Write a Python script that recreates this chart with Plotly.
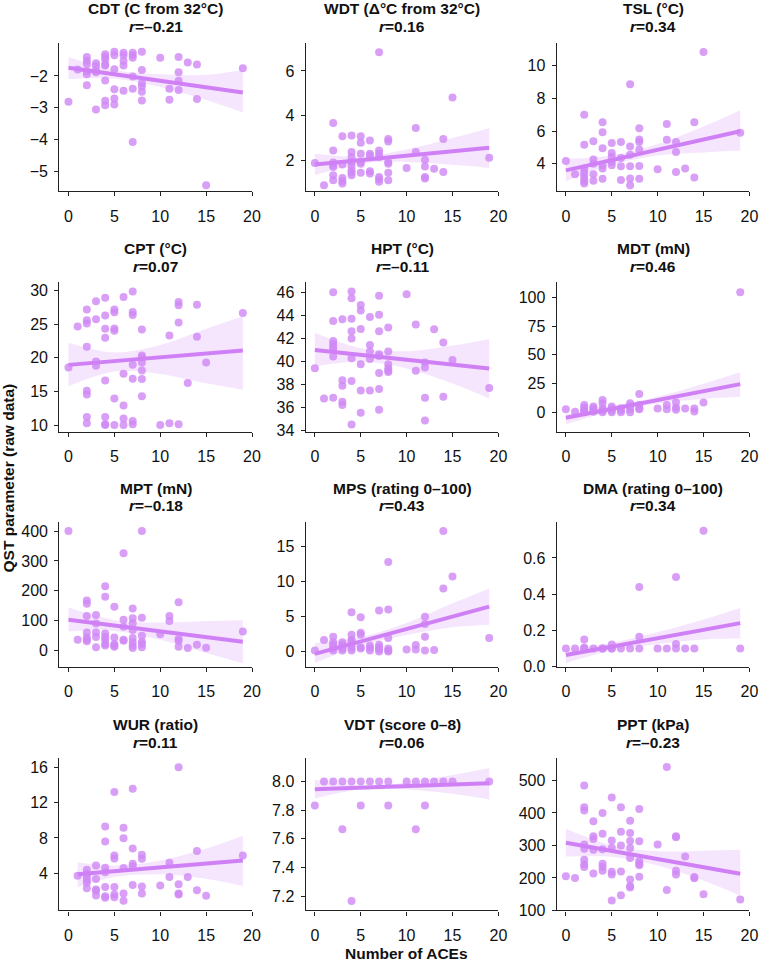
import plotly.graph_objects as go

# ---------------- data ----------------
TITLES = ["CDT (C from 32°C)", "WDT (Δ°C from 32°C)", "TSL (°C)",
          "CPT (°C)", "HPT (°C)", "MDT (mN)",
          "MPT (mN)", "MPS (rating 0–100)", "DMA (rating 0–100)",
          "WUR (ratio)", "VDT (score 0–8)", "PPT (kPa)"]
R_TEXT = ["–0.21", "0.16", "0.34", "0.07", "–0.11", "0.46",
          "–0.18", "0.43", "0.34", "0.11", "0.06", "–0.23"]

CDT_X = [0, 1, 2, 2, 2, 2, 2, 2, 3, 3, 3, 3, 3, 4, 4, 4, 4, 4, 4, 4, 4, 5, 5, 5, 5, 5, 5,
         6, 6, 6, 6, 6, 7, 7, 7, 7, 7, 7, 8, 8, 8, 8, 8, 8, 10, 11, 11, 12, 12, 12, 12, 13, 14, 14, 15, 19]
CDT_Y = [-2.81, -1.80, -1.40, -1.52, -1.62, -1.85, -1.95, -2.29, -1.60, -1.69, -1.84, -1.88, -3.06,
         -1.32, -1.40, -1.48, -1.64, -1.67, -2.14, -2.78, -2.92, -1.24, -1.35, -1.79, -2.42, -2.71, -2.90,
         -1.27, -1.35, -1.53, -1.67, -2.47, -1.27, -1.35, -1.43, -2.02, -2.40, -4.08,
         -1.24, -1.81, -2.23, -2.33, -2.50, -2.77, -1.43, -2.40, -2.75, -1.40, -1.88, -2.15, -2.44,
         -1.58, -1.64, -2.73, -5.44, -1.76]

WDT_X = [0, 1, 2, 2, 2, 2, 2, 2, 2, 3, 3, 3, 3, 3, 4, 4, 4, 4, 4, 4, 4, 4, 5, 5, 5, 5, 5, 5,
         6, 6, 6, 6, 6, 7, 7, 7, 7, 7, 7, 7, 8, 8, 8, 8, 8, 8, 10, 11, 11, 12, 12, 12, 12, 13, 14, 14, 15, 19]
WDT_Y = [1.88, 0.89, 3.67, 2.44, 1.90, 1.78, 1.70, 1.33, 1.11, 3.08, 1.82, 1.21, 1.08, 0.96,
         3.11, 2.37, 2.15, 1.93, 1.75, 1.56, 1.45, 1.33, 3.08, 2.79, 2.30, 1.93, 1.85, 1.45,
         2.89, 2.30, 2.22, 1.51, 1.41, 6.84, 2.44, 2.30, 2.15, 1.26, 1.16, 1.04,
         2.96, 2.84, 1.93, 1.85, 1.45, 1.11, 1.66, 3.45, 2.37, 2.03, 1.73, 1.26, 1.19, 1.63, 2.96, 1.48, 4.81, 2.12]

TSL_X = [0, 1, 2, 2, 2, 2, 2, 2, 2, 2, 3, 3, 3, 3, 3, 4, 4, 4, 4, 4, 4, 5, 5, 5, 5, 5,
         6, 6, 6, 6, 7, 7, 7, 7, 7, 7, 8, 8, 8, 8, 8, 8, 10, 11, 11, 12, 12, 12, 13, 14, 14, 15, 19]
TSL_Y = [4.16, 3.35, 7.0, 5.16, 3.70, 3.49, 3.29, 3.09, 2.92, 2.78, 5.38, 4.26, 4.0, 3.35, 2.95,
         6.54, 5.93, 4.95, 3.90, 3.70, 3.07, 5.26, 4.65, 4.41, 4.10, 3.90, 5.32, 4.34, 3.84, 2.99,
         8.87, 5.05, 4.55, 3.84, 3.09, 2.68, 6.17, 5.48, 5.32, 4.87, 3.86, 3.07, 3.66, 6.43, 5.46,
         5.32, 4.71, 3.49, 3.70, 6.54, 3.15, 10.84, 5.89]

CPT_X = [0, 1, 2, 2, 2, 2, 2, 2, 2, 2, 3, 3, 3, 3, 4, 4, 4, 4, 4, 4, 4, 4, 5, 5, 5, 5, 5, 5,
         6, 6, 6, 6, 6, 7, 7, 7, 7, 7, 7, 7, 8, 8, 8, 8, 8, 8, 8, 10, 11, 11, 12, 12, 12, 12, 13, 14, 14, 15, 19]
CPT_Y = [18.55, 24.64, 27.15, 25.58, 25.09, 21.65, 15.11, 14.52, 11.18, 10.25, 28.38, 25.72, 19.43, 18.80,
         28.92, 26.27, 24.30, 22.97, 16.63, 11.18, 10.1, 10.0, 27.15, 26.76, 24.35, 24.0, 13.93, 10.0,
         29.02, 17.62, 12.90, 10.98, 10.0, 29.85, 26.8, 26.36, 18.94, 16.88, 10.59, 10.1,
         24.2, 20.32, 20.02, 19.29, 18.11, 16.83, 14.28, 10.0, 23.32, 10.25, 28.28, 27.79, 25.23, 10.1,
         16.24, 27.89, 23.12, 19.29, 26.66]

HPT_X = [0, 1, 2, 2, 2, 2, 2, 2, 2, 2, 3, 3, 3, 3, 3, 4, 4, 4, 4, 4, 4, 4, 4, 5, 5, 5, 5, 5, 5,
         6, 6, 6, 6, 6, 7, 7, 7, 7, 7, 7, 7, 7, 8, 8, 8, 8, 8, 8, 10, 11, 11, 12, 12, 12, 12, 13, 14, 14, 15, 19]
HPT_Y = [39.43, 36.8, 46.0, 43.51, 41.77, 41.51, 41.29, 41.06, 40.43, 36.86, 43.66, 38.37, 37.91, 36.51, 36.23,
         46.06, 45.49, 43.71, 42.63, 42.0, 40.29, 38.31, 34.54, 44.89, 44.43, 42.83, 39.77, 37.49, 35.57,
         43.86, 41.43, 40.86, 40.23, 37.49, 45.71, 44.06, 42.63, 40.63, 40.49, 39.0, 37.63, 35.83,
         42.94, 40.86, 39.77, 39.43, 39.2, 39.09, 45.83, 43.2, 39.2, 39.91, 39.49, 36.86, 34.89,
         42.8, 41.66, 36.94, 40.14, 37.71]

MDT_X = [0, 1, 2, 2, 2, 2, 2, 3, 3, 3, 3, 4, 4, 4, 4, 4, 5, 5, 5, 5, 6, 6, 6, 7, 7, 7, 7,
         8, 8, 8, 8, 10, 11, 11, 12, 12, 12, 13, 14, 14, 15, 19]
MDT_Y = [2.9, 0.6, 6.6, 4.3, 2.3, 0.9, 0.2, 5.1, 3.7, 2.3, 0.6, 10.9, 8.0, 3.7, 1.7, 0.3,
         5.1, 3.4, 1.7, 0.2, 3.7, 2.0, 0.3, 8.0, 5.7, 2.9, 0.3, 16.0, 6.6, 3.7, 2.9, 3.4,
         6.6, 2.9, 8.9, 4.3, 2.3, 3.4, 3.4, 0.9, 8.6, 104.3]

MPT_X = [0, 1, 2, 2, 2, 2, 2, 2, 2, 3, 3, 3, 3, 3, 4, 4, 4, 4, 4, 4, 4, 5, 5, 5, 5, 5,
         6, 6, 6, 6, 6, 7, 7, 7, 7, 7, 7, 7, 7, 8, 8, 8, 8, 8, 8, 10, 11, 11, 12, 12, 12, 12, 13, 14, 15, 19]
MPT_Y = [400, 36.5, 168, 157, 116, 61, 44, 36, 31, 119, 91, 61, 46, 11, 215, 180, 57, 46, 36, 22, 17,
         147, 44, 22, 17, 13, 326, 103, 80, 36, 33, 141, 108, 92, 69, 42, 28, 17, 9,
         400, 110, 50, 30, 22, 11, 55, 116, 99, 162, 39, 33, 13, 9, 20, 10, 64]

MPS_X = [0, 1, 2, 2, 2, 2, 2, 2, 3, 3, 3, 3, 3, 4, 4, 4, 4, 4, 4, 4, 5, 5, 5, 5, 5, 6, 6, 6,
         7, 7, 7, 7, 7, 8, 8, 8, 8, 8, 8, 10, 11, 11, 12, 12, 12, 12, 13, 14, 14, 15, 19]
MPS_Y = [0.19, 1.69, 2.16, 1.36, 1.03, 0.75, 0.47, 0.19, 1.36, 1.03, 0.75, 0.47, 0.19,
         5.64, 2.44, 1.74, 1.46, 1.03, 0.56, 0.19, 4.94, 2.73, 2.44, 0.66, 0.47, 0.89, 0.56, 0.19,
         5.88, 1.03, 0.66, 0.33, 0.05, 12.79, 6.02, 1.97, 0.47, 0.19, 0.05, 0.33, 0.99, 0.33,
         4.98, 3.95, 2.16, 0.19, 0.28, 17.21, 9.03, 10.72, 1.97]

DMA_X = [0, 1, 2, 2, 2, 3, 4, 4, 5, 5, 5, 6, 7, 8, 8, 8, 10, 11, 12, 12, 12, 13, 14, 15, 19]
DMA_Y = [0.10, 0.10, 0.149, 0.105, 0.10, 0.10, 0.10, 0.10, 0.122, 0.10, 0.10, 0.10, 0.10,
         0.44, 0.164, 0.10, 0.10, 0.10, 0.495, 0.124, 0.10, 0.10, 0.10, 0.751, 0.10]

WUR_X = [1, 2, 2, 2, 2, 2, 2, 3, 3, 3, 3, 3, 4, 4, 4, 4, 4, 4, 4, 5, 5, 5, 5, 5, 5,
         6, 6, 6, 6, 6, 7, 7, 7, 7, 7, 8, 8, 8, 8, 10, 11, 11, 12, 12, 12, 12, 13, 14, 14, 15, 19]
WUR_Y = [3.74, 4.41, 3.96, 3.59, 3.21, 2.95, 2.32, 4.90, 3.36, 2.17, 2.02, 1.50,
         9.31, 7.59, 4.64, 4.11, 2.47, 1.42, 1.23, 13.2, 6.02, 5.68, 2.47, 1.61, 1.31,
         9.16, 7.96, 4.6, 1.72, 0.90, 13.57, 6.80, 5.08, 4.79, 2.69, 6.09, 5.64, 2.50, 1.72,
         2.62, 5.20, 3.59, 16.0, 2.77, 1.72, 1.61, 3.59, 6.54, 2.09, 1.46, 6.02]

VDT_X = [0, 1, 2, 3, 4, 5, 6, 7, 8, 10, 11, 12, 13, 14, 15, 19, 3, 4, 5, 8, 11, 12]
VDT_Y = [7.833, 8, 8, 8, 8, 8, 8, 8, 8, 8, 8, 8, 8, 8, 8, 8, 7.667, 7.167, 7.833, 7.833, 7.667, 7.833]

PPT_X = [0, 1, 2, 2, 2, 2, 2, 2, 2, 2, 3, 3, 3, 3, 3, 4, 4, 4, 4, 4, 4, 5, 5, 5, 5, 5, 5,
         6, 6, 6, 6, 6, 7, 7, 7, 7, 7, 7, 7, 7, 8, 8, 8, 8, 8, 8, 10, 11, 11, 12, 12, 12, 12, 13, 14, 14, 15, 19]
PPT_Y = [205, 200, 484, 417, 407, 303, 290, 256, 242, 234, 374, 328, 320, 287, 214,
         400, 336, 288, 244, 234, 222, 447, 315, 293, 219, 211, 131, 417, 342, 300, 220, 147,
         376, 338, 314, 292, 261, 195, 175, 171, 412, 313, 251, 244, 239, 204, 303, 541, 163,
         328, 325, 222, 211, 266, 203, 199, 150, 134]

# regression line and 95% CI band, read at these x positions
FIT_X = [0, 5, 10, 15, 19]
WUR_FIT_X = [1, 5, 10, 15, 19]
CDT_FIT = [-1.74, -1.945, -2.15, -2.36, -2.52]
CDT_LO = [-2.10, -2.08, -2.35, -2.76, -3.15]
CDT_HI = [-1.40, -1.81, -1.95, -1.96, -1.81]
WDT_FIT = [1.82, 2.01, 2.21, 2.40, 2.56]
WDT_LO = [1.34, 1.85, 1.93, 1.80, 1.66]
WDT_HI = [2.30, 2.17, 2.49, 3.00, 3.44]
TSL_FIT = [3.59, 4.22, 4.85, 5.48, 5.99]
TSL_LO = [2.92, 3.94, 4.50, 4.68, 4.80]
TSL_HI = [4.30, 4.50, 5.20, 6.28, 7.28]
CPT_FIT = [18.94, 19.50, 20.06, 20.61, 21.06]
CPT_LO = [15.75, 17.96, 17.6, 16.2, 15.26]
CPT_HI = [22.24, 20.8, 21.9, 24.3, 26.17]
HPT_FIT = [41.0, 40.58, 40.16, 39.74, 39.4]
HPT_LO = [39.57, 40.0, 39.4, 38.1, 36.8]
HPT_HI = [42.49, 41.15, 40.9, 41.4, 41.94]
MDT_FIT = [-4.6, 3.08, 10.77, 18.45, 24.6]
MDT_LO = [-10.3, 1.0, 7.8, 12.0, 13.7]
MDT_HI = [-1.5, 5.2, 13.7, 25.0, 34.9]
MPT_FIT = [103, 83.8, 64.6, 45.4, 30]
MPT_LO = [64, 66, 36, -8, -42]
MPT_HI = [144, 102, 94, 99, 102]
MPS_FIT = [-0.28, 1.49, 3.26, 5.03, 6.44]
MPS_LO = [-1.6, 0.9, 2.4, 3.5, 3.86]
MPS_HI = [1.22, 2.1, 4.1, 6.9, 9.03]
DMA_FIT = [0.064, 0.110, 0.157, 0.203, 0.24]
DMA_LO = [0.018, 0.088, 0.125, 0.15, 0.155]
DMA_HI = [0.095, 0.132, 0.19, 0.26, 0.324]
WUR_FIT = [3.89, 4.24, 4.67, 5.11, 5.46]
WUR_LO = [2.43, 3.6, 3.9, 3.4, 2.58]
WUR_HI = [5.23, 4.9, 5.45, 6.8, 8.26]
VDT_FIT = [7.947, 7.958, 7.969, 7.979, 7.988]
VDT_LO = [7.882, 7.944, 7.945, 7.915, 7.875]
VDT_HI = [8.012, 7.972, 7.993, 8.045, 8.095]
PPT_FIT = [308, 283, 258, 233, 213]
PPT_LO = [266, 265, 238, 192, 145]
PPT_HI = [351, 300, 282, 284, 287]

Y_RANGES = [[-5.63, -0.95], [0.62, 7.27], [2.31, 11.42],
            [8.97, 31.2], [33.9, 46.86], [-16.9, 112.9],
            [-55, 431], [-2.16, 18.5], [-0.003, 0.8],
            [-0.2, 17.05], [7.10, 8.165], [100, 569]]
Y_TICKS = [[-5, -4, -3, -2], [2, 4, 6], [4, 6, 8, 10],
           [10, 15, 20, 25, 30], [34, 36, 38, 40, 42, 44, 46], [0, 25, 50, 75, 100],
           [0, 100, 200, 300, 400], [0, 5, 10, 15], [0.0, 0.2, 0.4, 0.6],
           [4, 8, 12, 16], [7.2, 7.4, 7.6, 7.8, 8.0], [100, 200, 300, 400, 500]]
Y_TICKTEXT = [None, None, None, None, None, None, None, None,
              ["0.0", "0.2", "0.4", "0.6"], None,
              ["7.2", "7.4", "7.6", "7.8", "8.0"], None]
X_TICKS = [0, 5, 10, 15, 20]

PANELS = [
    (CDT_X, CDT_Y, FIT_X, CDT_FIT, CDT_LO, CDT_HI),
    (WDT_X, WDT_Y, FIT_X, WDT_FIT, WDT_LO, WDT_HI),
    (TSL_X, TSL_Y, FIT_X, TSL_FIT, TSL_LO, TSL_HI),
    (CPT_X, CPT_Y, FIT_X, CPT_FIT, CPT_LO, CPT_HI),
    (HPT_X, HPT_Y, FIT_X, HPT_FIT, HPT_LO, HPT_HI),
    (MDT_X, MDT_Y, FIT_X, MDT_FIT, MDT_LO, MDT_HI),
    (MPT_X, MPT_Y, FIT_X, MPT_FIT, MPT_LO, MPT_HI),
    (MPS_X, MPS_Y, FIT_X, MPS_FIT, MPS_LO, MPS_HI),
    (DMA_X, DMA_Y, FIT_X, DMA_FIT, DMA_LO, DMA_HI),
    (WUR_X, WUR_Y, WUR_FIT_X, WUR_FIT, WUR_LO, WUR_HI),
    (VDT_X, VDT_Y, FIT_X, VDT_FIT, VDT_LO, VDT_HI),
    (PPT_X, PPT_Y, FIT_X, PPT_FIT, PPT_LO, PPT_HI),
]

# ---------------- styling / layout ----------------
W, H = 767, 972
FONT = "Liberation Sans, Arial, sans-serif"
DOT = "rgba(208,135,245,0.80)"
LINE = "rgb(208,128,245)"
BAND = "rgba(210,140,250,0.22)"
TICK_SIZE = 16
COL_PX = [(60, 255), (309.3, 504.3), (563.3, 758.3)]
ROW_PX = [(43, 193), (285, 436), (526.7, 673.3), (765, 919)]

fig = go.Figure()
layout = dict(width=W, height=H, margin=dict(l=0, r=0, t=0, b=0),
              paper_bgcolor="white", plot_bgcolor="white", showlegend=False,
              font=dict(family=FONT, color="#111", size=15))
annotations = []

for i, (px, py, fx, fy, flo, fhi) in enumerate(PANELS):
    r, c = divmod(i, 3)
    n = "" if i == 0 else str(i + 1)
    xa, ya = "x" + n, "y" + n
    x0, x1 = COL_PX[c]
    top, bot = ROW_PX[r]
    layout["xaxis" + n] = dict(domain=[x0 / W, x1 / W], anchor=ya, range=[-1, 20],
                               tickvals=X_TICKS, showgrid=False, zeroline=False,
                               showline=True, linecolor="#222", linewidth=1.2,
                               ticks="outside", ticklen=4, tickwidth=1.2, tickcolor="#222",
                               ticklabelstandoff=6,
                               tickfont=dict(size=TICK_SIZE, color="#111"))
    yax = dict(domain=[1 - bot / H, 1 - top / H], anchor=xa, range=Y_RANGES[i],
               tickvals=Y_TICKS[i], showgrid=False, zeroline=False,
               showline=True, linecolor="#222", linewidth=1.2,
               ticks="outside", ticklen=4, tickwidth=1.2, tickcolor="#222",
               ticklabelstandoff=3,
               tickfont=dict(size=TICK_SIZE, color="#111"))
    if Y_TICKTEXT[i] is not None:
        yax["ticktext"] = Y_TICKTEXT[i]
    layout["yaxis" + n] = yax

    fig.add_trace(go.Scatter(x=px, y=py, mode="markers", xaxis=xa, yaxis=ya,
                             marker=dict(size=8, color=DOT, line=dict(width=0)),
                             cliponaxis=False, hoverinfo="skip"))
    fig.add_trace(go.Scatter(x=fx, y=flo, mode="lines", xaxis=xa, yaxis=ya,
                             line=dict(width=0, shape="spline", color=BAND), hoverinfo="skip"))
    fig.add_trace(go.Scatter(x=fx, y=fhi, mode="lines", xaxis=xa, yaxis=ya, fill="tonexty",
                             fillcolor=BAND, line=dict(width=0, shape="spline", color=BAND),
                             hoverinfo="skip"))
    fig.add_trace(go.Scatter(x=fx, y=fy, mode="lines", xaxis=xa, yaxis=ya,
                             line=dict(width=4, color=LINE), hoverinfo="skip"))

    cx = (x0 + x1) / 2 / W
    annotations.append(dict(x=cx, y=1 - (top - 34) / H, xref="paper", yref="paper",
                            text="<b>" + TITLES[i] + "</b>", showarrow=False,
                            xanchor="center", yanchor="middle",
                            font=dict(size=15.5, family=FONT, color="#111")))
    annotations.append(dict(x=cx, y=1 - (top - 16) / H, xref="paper", yref="paper",
                            text="<b><i>r</i>=" + R_TEXT[i] + "</b>", showarrow=False,
                            xanchor="center", yanchor="middle",
                            font=dict(size=15.5, family=FONT, color="#111")))

annotations.append(dict(x=411.5 / W, y=1 - 962 / H, xref="paper", yref="paper",
                        text="<b>Number of ACEs</b>", showarrow=False,
                        xanchor="center", yanchor="middle",
                        font=dict(size=15.5, family=FONT, color="#111")))
annotations.append(dict(x=9 / W, y=1 - 482 / H, xref="paper", yref="paper",
                        text="<b>QST parameter (raw data)</b>", showarrow=False, textangle=-90,
                        xanchor="center", yanchor="middle",
                        font=dict(size=15.5, family=FONT, color="#111")))
layout["annotations"] = annotations
fig.update_layout(**layout)
fig.write_html("out.html")
